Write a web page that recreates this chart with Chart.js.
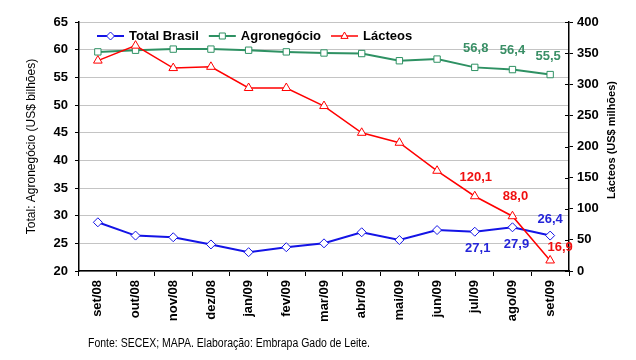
<!DOCTYPE html>
<html><head><meta charset="utf-8">
<script src="https://cdn.jsdelivr.net/npm/chart.js@4/dist/chart.umd.min.js"></script>
<style>html,body{margin:0;padding:0;background:#fff;}#wrap{width:636px;height:360px;position:relative}</style>
</head><body><div id="wrap"><canvas id="c" width="636" height="360"></canvas></div>
<script>
const categories = ['set/08','out/08','nov/08','dez/08','jan/09','fev/09','mar/09','abr/09','mai/09','jun/09','jul/09','ago/09','set/09'];
const totalBrasil = [28.8,26.4,26.1,24.8,23.4,24.3,25.0,27.0,25.6,27.4,27.1,27.9,26.4];
const agronegocio = [59.6,59.9,60.1,60.1,59.9,59.6,59.4,59.3,58.0,58.3,56.8,56.4,55.5];
const lacteos = [338,362,326,328,294,294,265,222,206,161,120.1,88.0,16.9];
const seriesNames = ['Total Brasil','Agronegócio','Lácteos'];
const leftTicks = [20,25,30,35,40,45,50,55,60,65];
const rightTicks = [0,50,100,150,200,250,300,350,400];
const labelledIdx = [10,11,12];
const leftTitle = 'Total: Agronegócio (US$ bilhões)';
const rightTitle = 'Lácteos (US$ milhões)';
const footer = 'Fonte: SECEX; MAPA. Elaboração: Embrapa Gado de Leite.';

const FONT = 'Arial, "Liberation Sans", sans-serif';
const BLUE = '#1414e6', GREEN = '#2e9163', RED = '#ff0000';
const LBLUE = '#2424d8', LGREEN = '#3a8f66', LRED = '#f01010';

// label offsets (styling) per dataset for labelled indices
const labelOffsets = [
  [[3,17],[4,17],[0,-16]],
  [[1,-19],[0,-19],[-2,-18]],
  [[1,-19],[3,-20],[10,-13]]
];
const labelColors = [LBLUE, LGREEN, LRED];

function fmt(v){ return v.toFixed(1).replace('.', ','); }

function drawMarker(ctx, style, x, y, r, color){
  ctx.save();
  ctx.fillStyle = '#fff'; ctx.strokeStyle = color; ctx.lineWidth = 1;
  ctx.beginPath();
  if (style === 'rectRot'){ ctx.moveTo(x, y-r); ctx.lineTo(x+r, y); ctx.lineTo(x, y+r); ctx.lineTo(x-r, y); ctx.closePath(); }
  else if (style === 'rect'){ const s = r*0.75; ctx.rect(x-s, y-s, 2*s, 2*s); }
  else { ctx.moveTo(x, y-r); ctx.lineTo(x+r*0.9, y+r*0.6); ctx.lineTo(x-r*0.9, y+r*0.6); ctx.closePath(); }
  ctx.fill(); ctx.stroke();
  ctx.restore();
}

const extras = {
  id: 'extras',
  afterDatasetsDraw(chart){
    const ctx = chart.ctx;
    // data labels
    ctx.save();
    ctx.font = 'bold 13px ' + FONT;
    ctx.textAlign = 'center'; ctx.textBaseline = 'middle';
    chart.data.datasets.forEach((ds, di) => {
      const meta = chart.getDatasetMeta(di);
      labelledIdx.forEach((idx, k) => {
        const p = meta.data[idx];
        const o = labelOffsets[di][k];
        ctx.fillStyle = labelColors[di];
        ctx.fillText(fmt(ds.data[idx]), p.x + o[0], p.y + o[1]);
      });
    });
    ctx.restore();
  },
  afterDraw(chart){
    const ctx = chart.ctx;
    const ca = chart.chartArea;
    // right axis inner tick marks (crossing)
    const y1 = chart.scales.y1;
    ctx.save();
    ctx.strokeStyle = '#000'; ctx.lineWidth = 1;
    rightTicks.forEach(v => {
      const py = Math.round(y1.getPixelForValue(v)) + 0.5;
      ctx.beginPath(); ctx.moveTo(ca.right - 4, py); ctx.lineTo(ca.right, py); ctx.stroke();
    });
    ctx.restore();

    // legend
    ctx.save();
    ctx.font = 'bold 13px ' + FONT;
    ctx.textBaseline = 'middle'; ctx.textAlign = 'left';
    let x = 97; const ly = 36;
    chart.data.datasets.forEach((ds, di) => {
      ctx.strokeStyle = ds.borderColor; ctx.lineWidth = ds.borderWidth;
      ctx.beginPath(); ctx.moveTo(x, ly); ctx.lineTo(x + 27, ly); ctx.stroke();
      drawMarker(ctx, ds.pointStyle, x + 13.5, ly, 4, ds.borderColor);
      ctx.fillStyle = '#000';
      ctx.fillText(ds.label, x + 32, ly);
      x += 32 + ctx.measureText(ds.label).width + 10;
    });
    ctx.restore();

    // axis titles
    ctx.save();
    ctx.fillStyle = '#000';
    ctx.textAlign = 'center'; ctx.textBaseline = 'middle';
    ctx.font = '12px ' + FONT;
    ctx.translate(32, (ca.top + ca.bottom) / 2);
    ctx.rotate(-Math.PI/2);
    ctx.fillText(leftTitle, 0, 0);
    ctx.restore();

    ctx.save();
    ctx.fillStyle = '#000';
    ctx.textAlign = 'center'; ctx.textBaseline = 'middle';
    ctx.font = 'bold 11px ' + FONT;
    ctx.translate(612, 140);
    ctx.rotate(-Math.PI/2);
    ctx.fillText(rightTitle, 0, 0);
    ctx.restore();

    // footer
    ctx.save();
    ctx.fillStyle = '#000';
    ctx.font = '12px ' + FONT;
    ctx.textBaseline = 'alphabetic'; ctx.textAlign = 'left';
    const w = ctx.measureText(footer).width;
    ctx.translate(88, 347);
    ctx.scale(282 / w, 1);
    ctx.fillText(footer, 0, 0);
    ctx.restore();
  }
};

new Chart(document.getElementById('c'), {
  type: 'line',
  data: {
    labels: categories,
    datasets: [
      { label: seriesNames[0], data: totalBrasil, yAxisID: 'y', borderColor: BLUE, backgroundColor: '#fff', borderWidth: 2,
        pointStyle: 'rectRot', pointRadius: 4.5, pointBorderWidth: 1, pointBackgroundColor: '#fff', pointBorderColor: BLUE, tension: 0, order: 2 },
      { label: seriesNames[1], data: agronegocio, yAxisID: 'y', borderColor: GREEN, backgroundColor: '#fff', borderWidth: 2,
        pointStyle: 'rect', pointRadius: 4.5, pointBorderWidth: 1, pointBackgroundColor: '#fff', pointBorderColor: GREEN, tension: 0, order: 3 },
      { label: seriesNames[2], data: lacteos, yAxisID: 'y1', borderColor: RED, backgroundColor: '#fff', borderWidth: 1.5,
        pointStyle: 'triangle', pointRadius: 5, pointBorderWidth: 1, pointBackgroundColor: '#fff', pointBorderColor: RED, tension: 0, order: 1 }
    ]
  },
  options: {
    responsive: false, animation: false, devicePixelRatio: 1,
    layout: { padding: { top: 22, left: 0, right: 0, bottom: 0 } },
    plugins: { legend: { display: false }, tooltip: { enabled: false }, title: { display: false } },
    scales: {
      x: {
        type: 'category', offset: true,
        grid: { offset: true, drawOnChartArea: false, drawTicks: true, tickLength: 5, tickColor: '#000' },
        border: { color: '#000', width: 1.5 },
        ticks: { autoSkip: false, minRotation: 90, maxRotation: 90, padding: 4, color: '#000', font: { family: FONT, size: 13, weight: 'bold' } },
        afterFit(s){ s.height = 89; }
      },
      y: {
        position: 'left', min: 20, max: 65,
        afterBuildTicks(s){ s.ticks = leftTicks.map(v => ({ value: v })); },
        ticks: { padding: 7, color: '#000', font: { family: FONT, size: 13, weight: 'bold' } },
        grid: { color: '#c4c4c4', tickColor: '#000', tickLength: 4, lineWidth: 1 },
        border: { color: '#000', width: 1.5 },
        afterFit(s){ s.width = 79; }
      },
      y1: {
        position: 'right', min: 0, max: 400,
        afterBuildTicks(s){ s.ticks = rightTicks.map(v => ({ value: v })); },
        ticks: { padding: 4, color: '#000', font: { family: FONT, size: 13, weight: 'bold' } },
        grid: { drawOnChartArea: false, tickColor: '#000', tickLength: 4 },
        border: { color: '#000', width: 1.5 },
        afterFit(s){ s.width = 67; }
      }
    }
  },
  plugins: [extras]
});
</script>
</body></html>
